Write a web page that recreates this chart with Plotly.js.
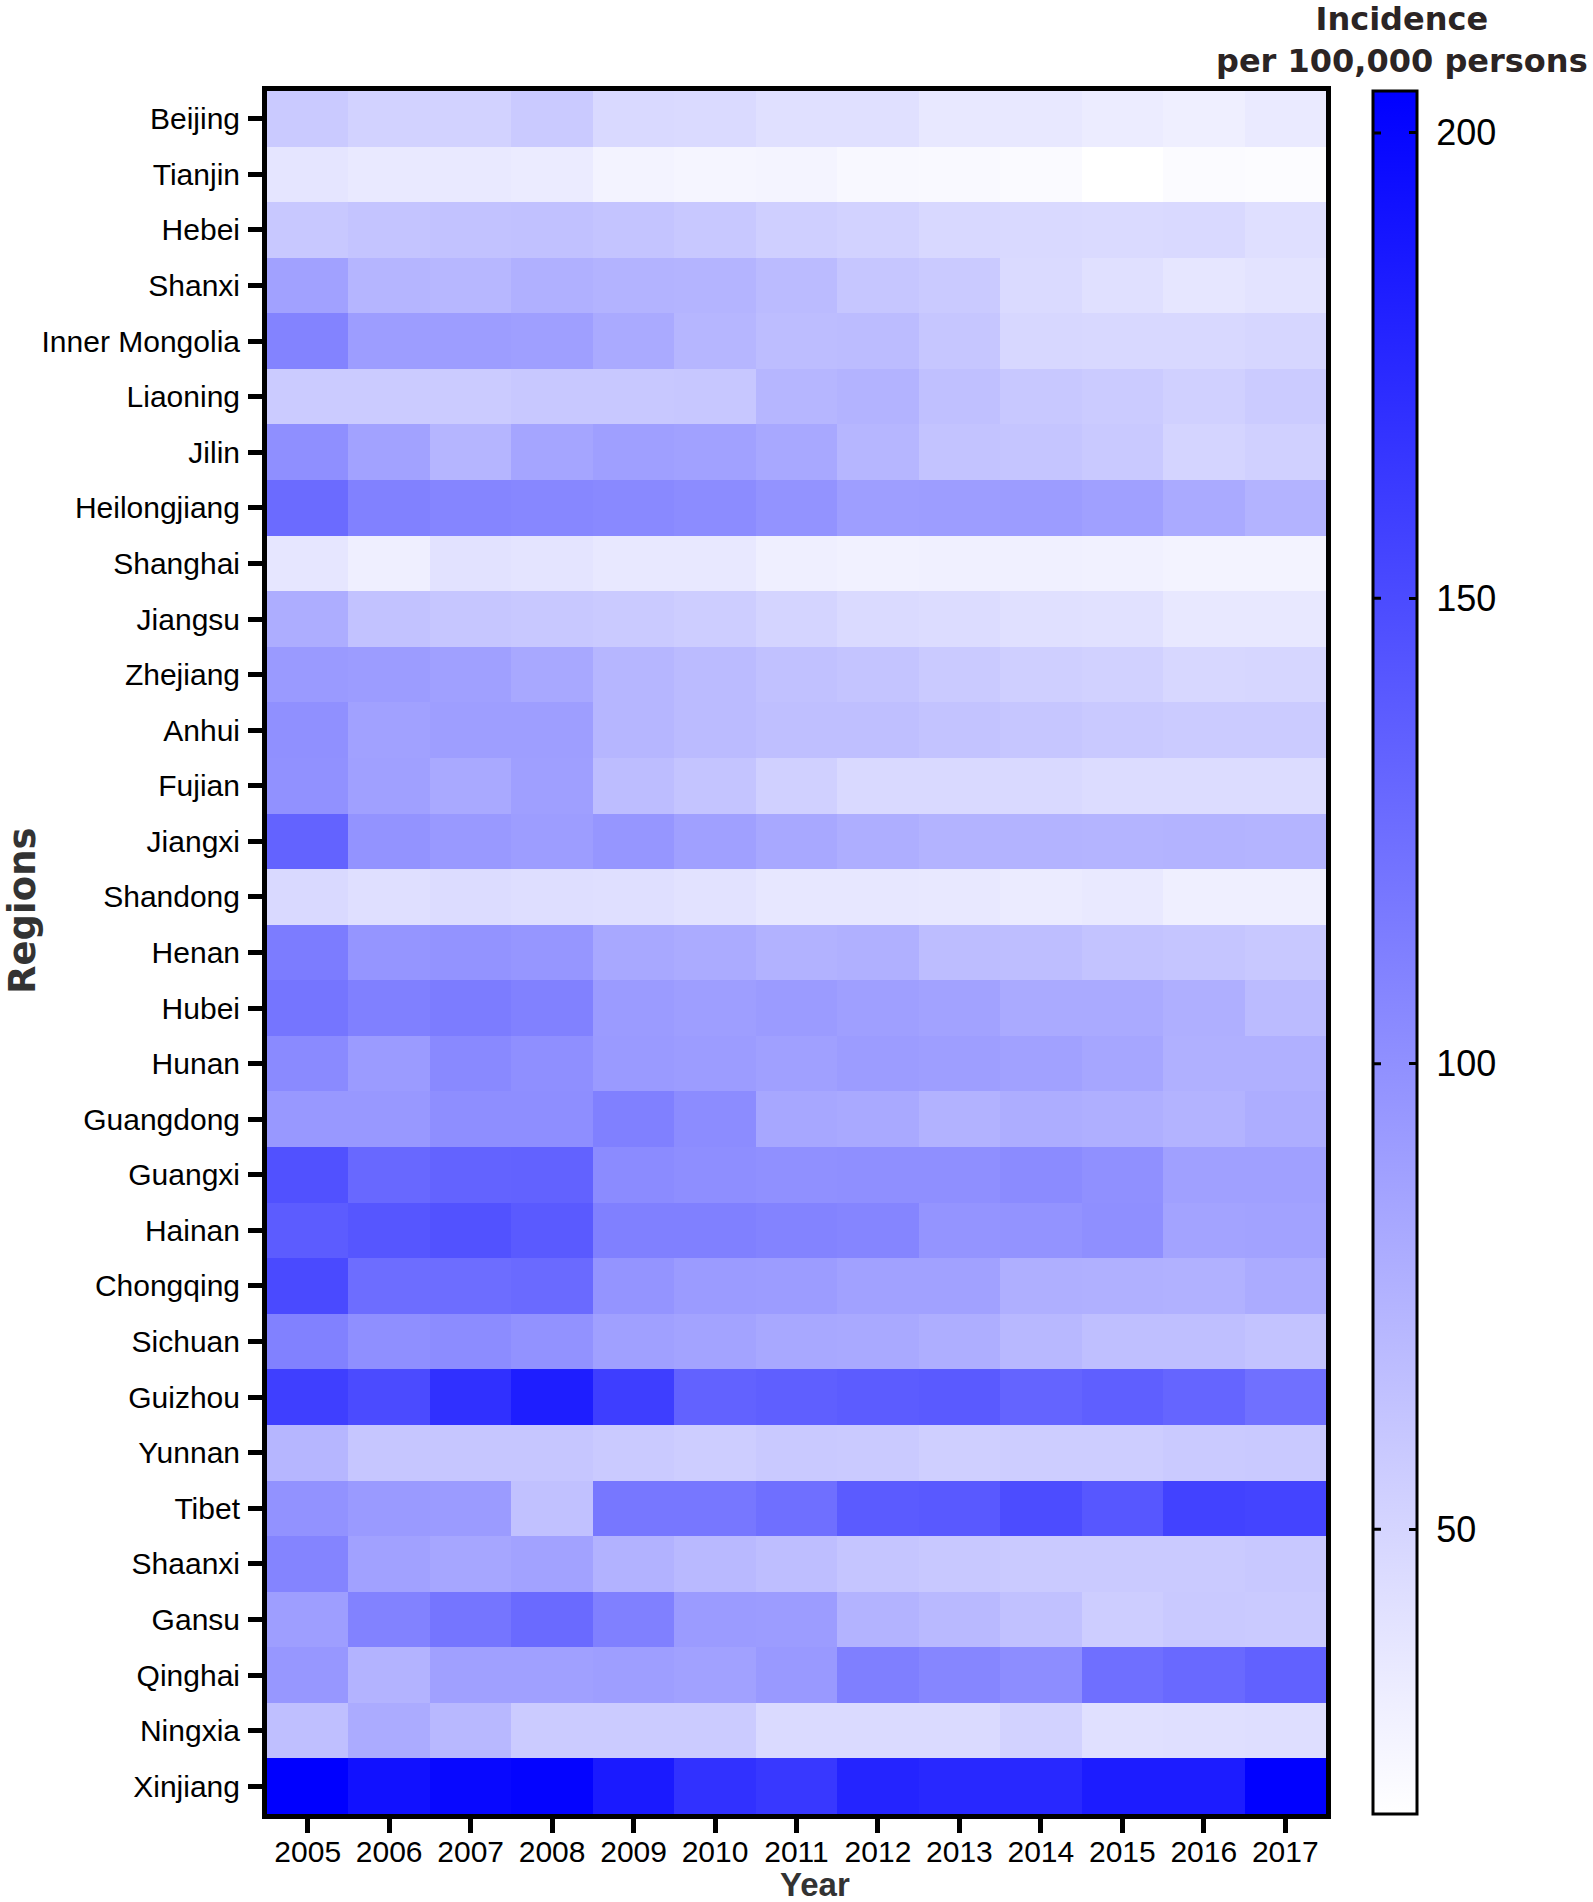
<!DOCTYPE html>
<html>
<head>
<meta charset="utf-8">
<script src="https://cdn.plot.ly/plotly-3.0.1.min.js"></script>
<style>html,body{margin:0;padding:0;background:#fff;}#chart{width:1593px;height:1902px;}</style>
</head>
<body>
<div id="chart"></div>
<script>
// ---- data (incidence per 100,000 persons) ----
const years = ["2005","2006","2007","2008","2009","2010","2011","2012","2013","2014","2015","2016","2017"];
const regions = ["Beijing","Tianjin","Hebei","Shanxi","Inner Mongolia","Liaoning","Jilin","Heilongjiang","Shanghai","Jiangsu","Zhejiang","Anhui","Fujian","Jiangxi","Shandong","Henan","Hubei","Hunan","Guangdong","Guangxi","Hainan","Chongqing","Sichuan","Guizhou","Yunnan","Tibet","Shaanxi","Gansu","Qinghai","Ningxia","Xinjiang"];

const beijing      = [57.9, 52.1, 52.1, 57.9, 47.0, 46.3, 41.9, 41.9, 36.1, 36.1, 33.2, 31.0, 34.6];
const tianjin      = [38.3, 35.4, 35.4, 33.9, 28.1, 26.7, 27.4, 24.5, 23.8, 23.0, 19.4, 22.3, 21.6];
const hebei        = [59.3, 62.2, 63.7, 64.4, 62.2, 59.3, 54.5, 52.1, 47.7, 47.0, 46.3, 47.0, 42.6];
const shanxi       = [87.6, 73.1, 71.7, 76.7, 74.6, 73.8, 68.4, 60.8, 57.9, 46.3, 41.9, 37.5, 39.7];
const innerMongolia= [109.4, 90.5, 90.5, 89.1, 81.1, 72.4, 67.3, 68.0, 60.8, 48.4, 47.7, 47.7, 49.2];
const liaoning     = [57.1, 57.1, 57.1, 59.3, 59.3, 60.1, 72.4, 74.6, 65.1, 59.3, 57.1, 53.5, 57.1];
const jilin        = [100.7, 86.9, 73.1, 84.7, 89.1, 87.6, 82.6, 72.4, 63.0, 61.5, 58.6, 50.6, 53.5];
const heilongjiang = [126.8, 110.9, 108.0, 106.5, 105.1, 102.9, 97.8, 89.8, 90.5, 91.3, 88.4, 81.1, 74.6];
const shanghai     = [37.5, 31.0, 40.5, 39.0, 36.1, 36.1, 31.0, 29.6, 30.3, 30.3, 29.6, 28.1, 28.1];
const jiangsu      = [78.9, 63.7, 60.8, 59.3, 57.9, 55.7, 50.6, 46.3, 44.8, 41.9, 41.2, 36.1, 36.1];
const zhejiang     = [92.7, 91.3, 88.4, 82.6, 72.4, 68.8, 64.4, 62.2, 57.9, 54.2, 52.8, 48.4, 49.2];
const anhui        = [100.0, 87.6, 89.8, 89.8, 72.4, 68.8, 65.5, 65.9, 63.0, 60.8, 58.6, 57.1, 57.1];
const fujian       = [99.3, 88.4, 81.8, 89.1, 67.3, 62.2, 53.5, 47.0, 47.0, 47.0, 44.8, 44.8, 44.8];
const jiangxi      = [132.6, 97.8, 93.4, 90.5, 95.6, 88.4, 82.6, 78.2, 74.6, 74.6, 73.8, 74.6, 73.8];
const shandong     = [47.0, 42.6, 44.8, 43.4, 42.6, 40.5, 36.8, 36.8, 36.1, 33.9, 35.4, 31.0, 31.0];
const henan        = [114.5, 96.3, 97.8, 95.6, 82.6, 80.4, 75.3, 76.7, 67.3, 66.6, 63.0, 61.5, 59.3];
const hubei        = [119.6, 111.6, 114.5, 110.9, 92.0, 89.8, 92.0, 89.1, 86.9, 81.1, 81.1, 77.5, 68.8];
const hunan        = [104.3, 92.0, 105.1, 100.7, 92.7, 91.3, 88.4, 91.3, 89.8, 87.6, 84.0, 76.7, 76.7];
const guangdong    = [94.2, 94.2, 101.4, 101.4, 111.6, 102.9, 83.3, 81.8, 75.3, 78.9, 77.5, 74.6, 78.9];
const guangxi      = [145.7, 129.0, 132.6, 133.4, 103.6, 101.4, 100.0, 100.7, 100.7, 103.6, 100.0, 88.4, 88.4];
const hainan       = [137.7, 142.1, 145.0, 139.2, 111.6, 111.6, 109.4, 108.0, 97.1, 97.8, 100.7, 86.2, 86.9];
const chongqing    = [150.8, 125.4, 125.4, 127.6, 97.1, 92.0, 91.3, 87.6, 87.6, 77.5, 76.7, 76.0, 80.4];
const sichuan      = [110.9, 100.7, 102.9, 98.5, 88.4, 86.2, 82.6, 81.8, 78.2, 70.9, 65.9, 65.9, 63.0];
const guizhou      = [158.8, 150.1, 169.7, 182.7, 159.5, 133.4, 135.5, 137.7, 139.2, 131.9, 135.5, 131.2, 123.2];
const yunnan       = [72.4, 60.8, 60.8, 60.8, 57.9, 55.7, 58.6, 57.9, 54.2, 55.7, 55.7, 57.9, 58.6];
const tibet        = [98.5, 92.7, 92.0, 64.4, 118.1, 118.1, 123.9, 138.5, 139.9, 149.3, 141.4, 156.6, 155.1];
const shaanxi      = [108.7, 87.6, 84.0, 86.9, 75.3, 70.2, 66.6, 61.5, 59.3, 57.9, 57.9, 57.9, 59.3];
const gansu        = [89.8, 110.1, 119.6, 127.6, 111.6, 92.0, 91.3, 74.6, 70.2, 64.4, 55.7, 58.6, 57.9];
const qinghai      = [94.9, 74.6, 88.4, 88.4, 89.8, 87.6, 93.4, 112.3, 107.2, 102.2, 123.9, 128.3, 134.1];
const ningxia      = [65.9, 80.4, 70.9, 57.1, 57.1, 57.1, 46.3, 46.3, 46.3, 52.1, 41.9, 42.6, 43.4];
const xinjiang     = [204.5, 192.2, 198.7, 201.6, 185.6, 168.9, 163.9, 178.4, 175.5, 175.5, 184.2, 184.2, 203.5];

const colorbarTicks = [50, 100, 150, 200];
const zMin = 19.4, zMax = 204.5;

const z = [beijing, tianjin, hebei, shanxi, innerMongolia, liaoning, jilin, heilongjiang, shanghai,
  jiangsu, zhejiang, anhui, fujian, jiangxi, shandong, henan, hubei, hunan, guangdong, guangxi,
  hainan, chongqing, sichuan, guizhou, yunnan, tibet, shaanxi, gansu, qinghai, ningxia, xinjiang];

// ---- layout geometry ----
const W = 1593, H = 1902;
const mL = 267, mR = 267, mT = 91, mB = 88;
const plotW = W - mL - mR, plotH = H - mT - mB;
const px2x = p => (p - mL) / plotW;
const py2y = p => (H - mB - p) / plotH;

const cbLeftPx = 1373, cbThick = 44;
const cbX = px2x(cbLeftPx);

const tickFont = {family: "Liberation Sans, Arial, sans-serif", size: 30, color: "#000"};

const trace = {
  type: "heatmap",
  x: years,
  y: regions,
  z: z,
  zmin: zMin,
  zmax: zMax,
  zsmooth: false,
  colorscale: [[0, "#ffffff"], [1, "#0000ff"]],
  showscale: true,
  hoverinfo: "x+y+z",
  colorbar: {
    x: cbX, xanchor: "left", xpad: 0,
    y: 0.5, yanchor: "middle", ypad: 0,
    len: plotH, lenmode: "pixels",
    thickness: cbThick, thicknessmode: "pixels",
    outlinewidth: 3, outlinecolor: "#000",
    tickmode: "array", tickvals: colorbarTicks,
    ticktext: colorbarTicks.map(v => "\u00a0" + v),
    ticks: "inside", ticklen: 9, tickwidth: 3, tickcolor: "#000",
    tickfont: {family: "Liberation Sans, Arial, sans-serif", size: 36, color: "#000"}
  }
};

// left-side colorbar ticks (short arrow-less lines), derived from tick values
const cbLeftTicks = colorbarTicks.map(v => ({
  text: " ", xref: "paper", yref: "paper",
  x: px2x(cbLeftPx + 1), y: (v - zMin) / (zMax - zMin),
  showarrow: true, arrowhead: 0, arrowwidth: 3, arrowcolor: "#000",
  ax: 10, ay: 0, standoff: 0, startstandoff: 0
}));

const layout = {
  width: W, height: H,
  margin: {l: mL, r: mR, t: mT, b: mB, pad: 0},
  paper_bgcolor: "#fff", plot_bgcolor: "#fff",
  showlegend: false,
  xaxis: {
    type: "category",
    showline: true, linewidth: 5, linecolor: "#000", mirror: true,
    ticks: "outside", ticklen: 14, tickwidth: 5, tickcolor: "#000",
    tickfont: tickFont, showgrid: false, zeroline: false,
    ticklabelstandoff: -7
  },
  yaxis: {
    type: "category", autorange: "reversed",
    showline: true, linewidth: 5, linecolor: "#000", mirror: true,
    ticks: "outside", ticklen: 14, tickwidth: 5, tickcolor: "#000",
    tickfont: tickFont, showgrid: false, zeroline: false,
    ticklabelstandoff: 2
  },
  annotations: cbLeftTicks.concat([
    {text: "Incidence<br>per 100,000 persons", xref: "paper", yref: "paper", x: px2x(1402), y: py2y(40),
     xanchor: "center", yanchor: "middle", align: "center", showarrow: false,
     font: {family: "DejaVu Sans, sans-serif", size: 32, color: "#2b2424", weight: "bold"}},
    {text: "Regions", xref: "paper", yref: "paper", x: px2x(22), y: py2y(911),
     xanchor: "center", yanchor: "middle", showarrow: false, textangle: -90,
     font: {family: "DejaVu Sans, sans-serif", size: 37, color: "#333333", weight: "bold"}},
    {text: "Year", xref: "paper", yref: "paper", x: px2x(815), y: py2y(1884),
     xanchor: "center", yanchor: "middle", showarrow: false,
     font: {family: "Liberation Sans, Arial, sans-serif", size: 33, color: "#333333", weight: "bold"}}
  ])
};

Plotly.newPlot("chart", [trace], layout, {displayModeBar: false, staticPlot: true});
</script>
</body>
</html>
